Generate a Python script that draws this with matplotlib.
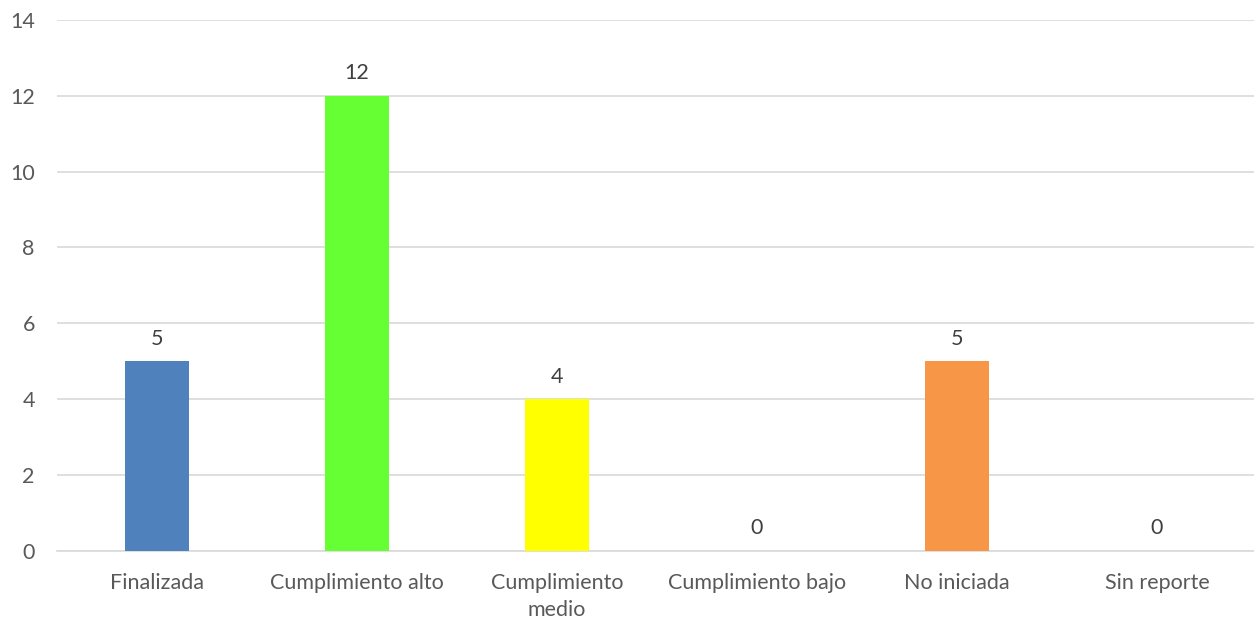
import matplotlib.pyplot as plt

# Estado de las actividades
categorias = ["Finalizada", "Cumplimiento alto", "Cumplimiento\nmedio",
              "Cumplimiento bajo", "No iniciada", "Sin reporte"]
valores = [5, 12, 4, 0, 5, 0]
colores = ["#4F81BD", "#66FF33", "#FFFF00", "#C0504D", "#F79646", "#8064A2"]
y_ticks = [0, 2, 4, 6, 8, 10, 12, 14]

texto = "#595959"
rejilla = "#D9D9D9"

plt.rcParams['font.family'] = ['Lato', 'DejaVu Sans']

fig = plt.figure(figsize=(12.54, 6.22), dpi=100)
ax = fig.add_axes([57 / 1254, 1 - 551 / 622, 1200 / 1254, (551 - 19.7) / 622])

x = range(len(categorias))
barras = ax.bar(x, valores, width=0.32, color=colores, zorder=3)

for xi, v in zip(x, valores):
    ax.annotate(str(v), (xi, v), xytext=(0, 9), textcoords="offset points",
                ha="center", va="bottom", fontsize=15.5, color="#404040")

ax.set_xlim(-0.5, 5.5)
ax.set_ylim(0, 14)
ax.set_yticks(y_ticks)
ax.set_xticks(list(x))
ax.set_xticklabels(categorias, fontsize=15.5, color=texto, linespacing=1.45)
ax.tick_params(axis="y", labelsize=15.5, labelcolor=texto, length=0, pad=16)
ax.tick_params(axis="x", length=0, pad=16)

ax.grid(axis="y", color=rejilla, linewidth=1.2, zorder=0)
for s in ["top", "right", "left"]:
    ax.spines[s].set_visible(False)
ax.spines["bottom"].set_color(rejilla)
ax.spines["bottom"].set_linewidth(1.2)

fig.savefig("out.png", dpi=100)
